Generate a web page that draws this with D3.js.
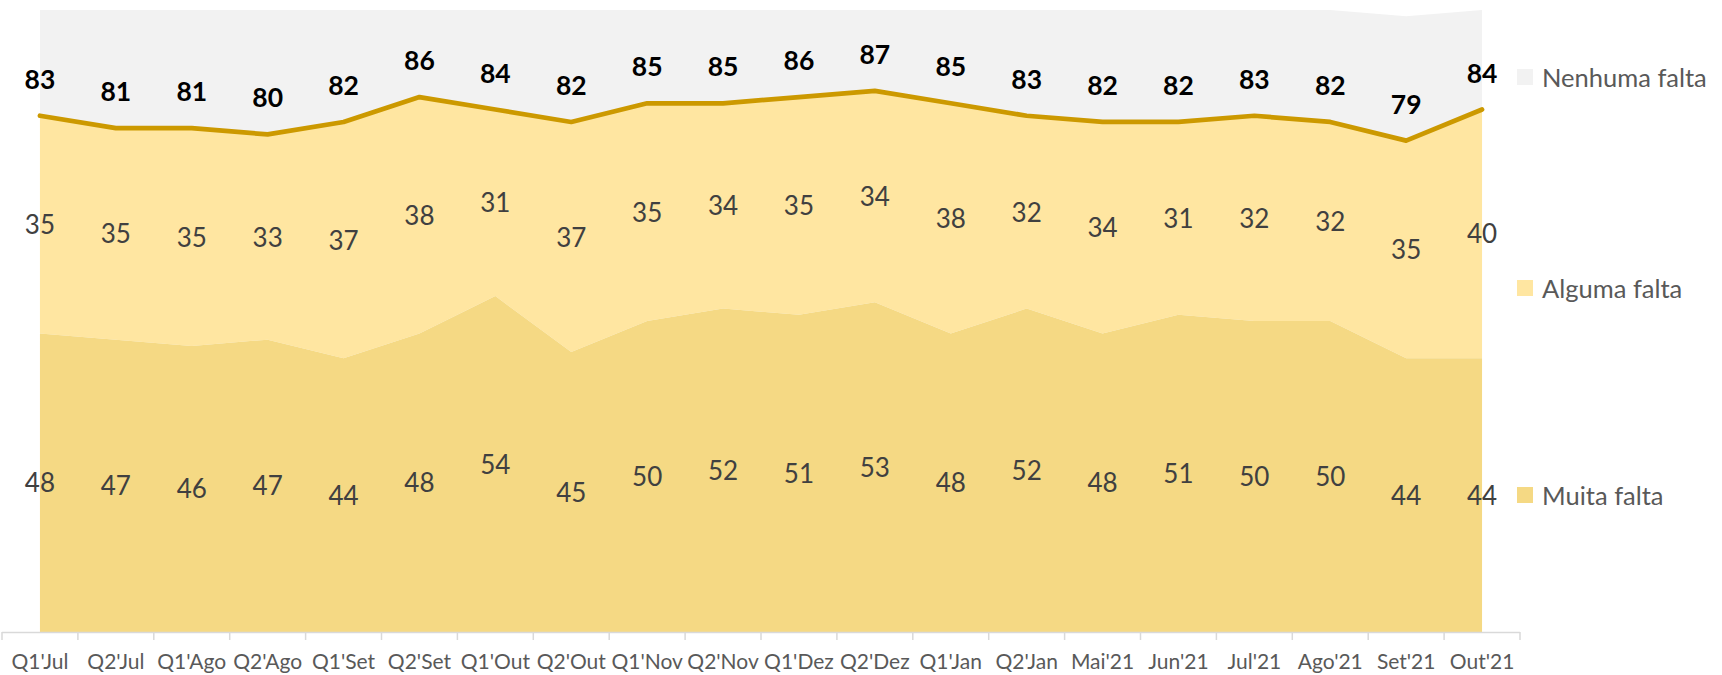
<!DOCTYPE html>
<html><head><meta charset="utf-8">
<script src="https://cdn.jsdelivr.net/npm/d3@7"></script>
<style>body{margin:0;background:#fff}svg{display:block}</style>
</head><body>
<svg id="c" width="1722" height="675"></svg>
<script>
const categories = ["Q1'Jul","Q2'Jul","Q1'Ago","Q2'Ago","Q1'Set","Q2'Set","Q1'Out","Q2'Out","Q1'Nov","Q2'Nov","Q1'Dez","Q2'Dez","Q1'Jan","Q2'Jan","Mai'21","Jun'21","Jul'21","Ago'21","Set'21","Out'21"];
const muita   = [48,47,46,47,44,48,54,45,50,52,51,53,48,52,48,51,50,50,44,44];
const alguma  = [35,35,35,33,37,38,31,37,35,34,35,34,38,32,34,31,32,32,35,40];
const total   = [83,81,81,80,82,86,84,82,85,85,86,87,85,83,82,82,83,82,79,84];
const nenhuma = [17,19,19,20,18,14,16,18,15,15,14,13,15,17,18,18,17,18,20,16];
const legendLabels = ["Nenhuma falta","Alguma falta","Muita falta"];

const colors = {muita:"#F5D984", alguma:"#FFE6A1", nenhuma:"#F2F2F2", line:"#CC9900"};
const svg = d3.select("#c");
const x = d3.scaleBand().domain(categories).range([2,1520]).padding(0);
const cx = c => x(c) + x.bandwidth()/2;
const y = d3.scaleLinear().domain([0,100]).range([632,10]);

const data = categories.map((c,i)=>({c, m:muita[i], a:alguma[i], t:total[i], n:nenhuma[i]}));

// areas
svg.append("path").datum(data).attr("fill",colors.nenhuma)
  .attr("d", d3.area().x(d=>cx(d.c)).y0(d=>y(d.t)).y1(d=>y(d.t+d.n)));
svg.append("path").datum(data).attr("fill",colors.alguma)
  .attr("d", d3.area().x(d=>cx(d.c)).y0(d=>y(d.m)).y1(d=>y(d.t)));
svg.append("path").datum(data).attr("fill",colors.muita)
  .attr("d", d3.area().x(d=>cx(d.c)).y0(y(0)).y1(d=>y(d.m)));

// line
svg.append("path").datum(data).attr("fill","none").attr("stroke",colors.line)
  .attr("stroke-width",4.7).attr("stroke-linejoin","round").attr("stroke-linecap","round")
  .attr("d", d3.line().x(d=>cx(d.c)).y(d=>y(d.t)));

// axis
const axisG = svg.append("g").attr("transform",`translate(0,${y(0)})`);
axisG.call(d3.axisBottom(x).tickSize(0).tickPadding(0));
axisG.select(".domain").remove();
axisG.append("line").attr("x1",x.range()[0]).attr("x2",x.range()[1]).attr("y1",0.5).attr("y2",0.5)
  .attr("stroke","#D9D9D9").attr("stroke-width",1.5);
const edges = categories.map(c=>x(c)).concat([x.range()[1]]);
axisG.selectAll("line.tk").data(edges).join("line").attr("class","tk")
  .attr("x1",d=>d).attr("x2",d=>d).attr("y1",0).attr("y2",8)
  .attr("stroke","#D9D9D9").attr("stroke-width",1.5);
axisG.selectAll(".tick text").attr("y",37).attr("dy",null)
  .attr("font-family","Lato").attr("font-size",21).attr("fill","#595959");

// labels
const lab = svg.append("g").attr("font-family","Lato").attr("text-anchor","middle");
lab.selectAll("text.m").data(data).join("text").attr("class","m")
  .attr("x",d=>cx(d.c)).attr("y",d=>y(d.m/2)+9.5).attr("font-size",26).attr("fill","#404040")
  .text(d=>d.m);
lab.selectAll("text.a").data(data).join("text").attr("class","a")
  .attr("x",d=>cx(d.c)).attr("y",d=>y((d.m+d.t)/2)+9.5).attr("font-size",26).attr("fill","#404040")
  .text(d=>d.a);
lab.selectAll("text.t").data(data).join("text").attr("class","t")
  .attr("x",d=>cx(d.c)).attr("y",d=>y(d.t)-27).attr("font-size",26.5).attr("font-weight","bold").attr("fill","#000")
  .text(d=>d.t);

// legend
const legY = [77,288,495];
const legC = [colors.nenhuma, colors.alguma, colors.muita];
const leg = svg.append("g");
legendLabels.forEach((l,i)=>{
  leg.append("rect").attr("x",1517).attr("y",legY[i]-8).attr("width",16).attr("height",16).attr("fill",legC[i]);
  leg.append("text").attr("x",1542).attr("y",legY[i]+9.5).attr("font-family","Lato").attr("font-size",25.5)
    .attr("fill","#595959").text(l);
});
</script>
</body></html>
